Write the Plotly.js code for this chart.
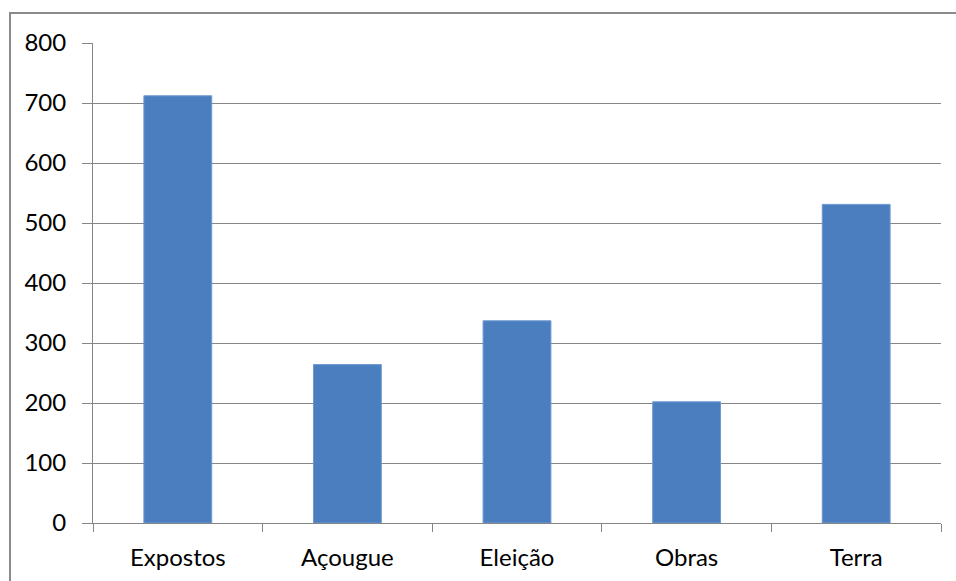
<!DOCTYPE html>
<html>
<head>
<meta charset="utf-8">
<script src="https://cdn.plot.ly/plotly-3.0.1.min.js"></script>
<style>
  html, body { margin: 0; padding: 0; background: #fff; }
  #wrap { position: relative; width: 956px; height: 581px; overflow: hidden; }
  #chart { position: absolute; left: 0; top: 0; width: 956px; height: 581px; }
  #frame { position: absolute; left: 9px; top: 12px; width: 960px; height: 600px;
           border-top: 2px solid #8a8a8a; border-left: 2px solid #8a8a8a; pointer-events: none; }
</style>
</head>
<body>
<div id="wrap">
  <div id="chart"></div>
  <div id="frame"></div>
</div>
<script>
const categories = ["Expostos", "Açougue", "Eleição", "Obras", "Terra"];
const values = [712, 264, 337, 202, 531];
const yTicks = [0, 100, 200, 300, 400, 500, 600, 700, 800];

const fontFamily = "Lato, 'Open Sans', sans-serif";
const gray = "#868686";

Plotly.newPlot("chart", [{
  type: "bar",
  x: categories,
  y: values,
  marker: { color: "#4A7EBF", line: { color: "#6E9AD0", width: 1 } },
  hoverinfo: "x+y"
}], {
  width: 956,
  height: 581,
  margin: { l: 93, r: 15, t: 43, b: 58, pad: 0 },
  paper_bgcolor: "#fff",
  plot_bgcolor: "#fff",
  showlegend: false,
  bargap: 0.6,
  font: { family: fontFamily, size: 24, color: "#000" },
  xaxis: {
    type: "category",
    showline: true, linecolor: gray, linewidth: 1,
    ticks: "outside", tickson: "boundaries", ticklen: 8, tickcolor: gray, tickwidth: 1,
    showgrid: false, zeroline: false,
    tickfont: { family: fontFamily, size: 24, color: "#000" },
    ticklabelstandoff: 13
  },
  yaxis: {
    range: [0, 800],
    tickvals: yTicks,
    ticktext: yTicks.map(String),
    showline: true, linecolor: gray, linewidth: 1,
    ticks: "outside", ticklen: 10, tickcolor: gray, tickwidth: 1,
    showgrid: true, gridcolor: gray, gridwidth: 1,
    zeroline: false,
    tickfont: { family: fontFamily, size: 24, color: "#000" },
    ticklabelstandoff: 11
  }
}, { displayModeBar: false, staticPlot: true });
</script>
</body>
</html>
